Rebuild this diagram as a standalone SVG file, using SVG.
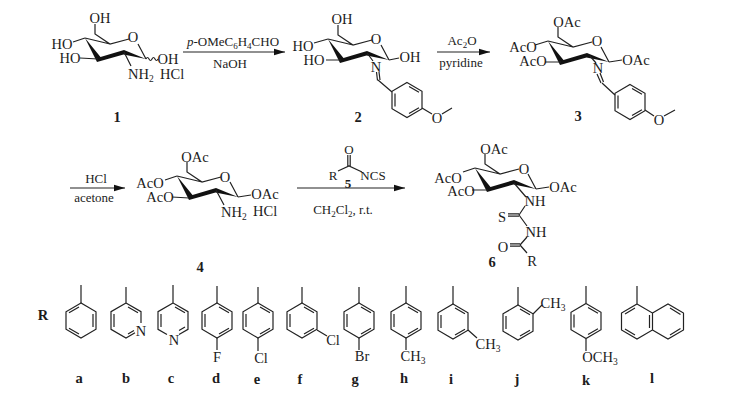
<svg xmlns="http://www.w3.org/2000/svg" xmlns:xlink="http://www.w3.org/1999/xlink" width="741" height="402" viewBox="0 0 741 402">
<style>
text{font-family:"Liberation Serif","Times New Roman",serif;font-size:14.5px;fill:#1c1c1c;text-anchor:middle}
text.r{font-size:13px}
.b{font-weight:bold}
.s{font-size:9.500px}
text.r .s{font-size:9px}
.st{text-anchor:start}
.l,path.l,line{fill:none;stroke:#222;stroke-width:1.200}
.w{fill:#111;stroke:none}
</style>
<defs>
<marker id="ah" markerUnits="userSpaceOnUse" markerWidth="12" markerHeight="8" refX="11" refY="4" orient="auto"><path d="M0 0.8 11 4 0 7.2Z" fill="#111"/></marker>
<g id="ring">
<path class="l" d="M10-14V-4L25 6 44 1M53 6 61 21M0 0 25 6"/>
<path class="w" d="M0 0 15.500 19 39 12 61 21 38.500 16.500 12 24Z"/>
</g>
<g id="bz"><path class="l" d="M0-17.500 15-8.700V8.700L0 17.500-15 8.700V-8.700ZM2-13.500 12-7.700M12 7.700 2 13.500M-12-6.500V6.500"/></g>
</defs>
<rect width="741" height="402" fill="#fff"/>

<g id="connectors">
<line x1="183" y1="52" x2="285" y2="52" marker-end="url(#ah)"/>
<line x1="437" y1="52" x2="490" y2="52" marker-end="url(#ah)"/>
<line x1="70" y1="188" x2="125" y2="188" marker-end="url(#ah)"/>
<line x1="297" y1="188" x2="405" y2="188" marker-end="url(#ah)"/>
</g>

<g id="reagents">
<text class="r" x="233" y="46"><tspan font-style="italic">p</tspan>-OMeC<tspan class="s" dy="3">6</tspan><tspan dy="-3">H</tspan><tspan class="s" dy="3">4</tspan><tspan dy="-3">CHO</tspan></text>
<text class="r" x="230" y="68">NaOH</text>
<text class="r" x="462" y="45">Ac<tspan class="s" dy="3">2</tspan><tspan dy="-3">O</tspan></text>
<text class="r" x="461" y="67">pyridine</text>
<text class="r" x="96" y="183">HCl</text>
<text class="r" x="94" y="202">acetone</text>
<text class="r" x="343" y="214">CH<tspan class="s" dy="3">2</tspan><tspan dy="-3">Cl</tspan><tspan class="s" dy="3">2</tspan><tspan dy="-3">, r.t.</tspan></text>
</g>

<g id="node-5">
<path class="l" d="M338 171 349 166 362 172M347.800 166V155M350.200 166V155"/>
<text class="r" x="349" y="154">O</text><text class="r" x="333" y="180">R</text><text class="r" x="373" y="180">NCS</text>
<text class="r b" x="348" y="188">5</text>
</g>

<g id="node-1">
<use href="#ring" xlink:href="#ring" x="85" y="38"/>
<path class="l" d="M85 38 73 42M98 59 80 58M124 52 131 66M146 59q1.500-3 3 0t3 0 3 0 3 0"/>
<text x="100" y="23">OH</text><text x="133" y="42">O</text>
<text x="62" y="49">HO</text><text x="70" y="63">HO</text><text x="168" y="64">OH</text>
<text class="st" x="128" y="79">NH<tspan class="s" dy="3">2</tspan></text><text class="st" x="160" y="79">HCl</text>
<text class="b" x="117" y="122">1</text>
</g>

<g id="node-2">
<use href="#ring" xlink:href="#ring" x="328" y="39"/>
<path class="l" d="M328 39 314 43M341 60 326 60M367 53 373 61M389 60 399 58M376.500 72 377.500 80.500M379 72 380 80M378 80 392 92M422 108 432 114M442 114 452 108"/>
<use href="#bz" xlink:href="#bz" x="407" y="100"/>
<text x="342" y="24">OH</text><text x="376" y="44">O</text>
<text x="303" y="51">HO</text><text x="314" y="65">HO</text><text x="410" y="62">OH</text>
<text x="376" y="72">N</text><text x="437" y="123">O</text>
<text class="b" x="358" y="122">2</text>
</g>

<g id="node-3">
<use href="#ring" xlink:href="#ring" x="548" y="41"/>
<path class="l" d="M548 41 535 45M561 62 545 62M609 62 622 60M590 56 596 63M597 74 601 83M600 73 603.500 82M602 83 615 95M645 110 654 116M664 116 675 110"/>
<use href="#bz" xlink:href="#bz" x="630" y="102"/>
<text x="567" y="27">OAc</text><text x="597" y="46">O</text>
<text x="523" y="52">AcO</text><text x="533" y="66">AcO</text><text x="636" y="65">OAc</text>
<text x="598" y="73">N</text><text x="659" y="125">O</text>
<text class="b" x="578" y="121">3</text>
</g>

<g id="node-4">
<use href="#ring" xlink:href="#ring" x="177" y="176"/>
<path class="l" d="M177 176 165 180M189 198 172 197M238 197 251 195M216 190 224 205"/>
<text x="195" y="162">OAc</text><text x="225" y="182">O</text>
<text x="150" y="188">AcO</text><text x="160" y="202">AcO</text><text x="265" y="199">OAc</text>
<text class="st" x="221" y="217">NH<tspan class="s" dy="3">2</tspan></text><text class="st" x="253" y="216">HCl</text>
<text class="b" x="200" y="272">4</text>
</g>

<g id="node-6">
<use href="#ring" xlink:href="#ring" x="475" y="168"/>
<path class="l" d="M475 168 463 172M488 190 472 190M536 189 549 187M514 183 526 197M525 206 519 215M519 213.800H508M519 216.200H508M519 215 527 226M527 237 520 245M520 243.800H510M520 246.200H510M520 245 527 253"/>
<text x="494" y="154">OAc</text><text x="524" y="174">O</text>
<text x="448" y="183">AcO</text><text x="461" y="196">AcO</text><text x="563" y="192">OAc</text>
<text x="535" y="206">NH</text><text x="502" y="222">S</text><text x="536" y="237">NH</text>
<text x="503" y="252">O</text><text x="532" y="266">R</text>
<text class="b" x="492" y="267">6</text>
</g>

<g id="substituents">
<text class="b" x="43" y="320">R</text>
<g id="r-a"><path class="l" d="M81 285V303"/><use href="#bz" xlink:href="#bz" transform="translate(81 320.500) scale(-1 1)"/><text class="b" x="79" y="383">a</text></g>
<g id="r-b"><path class="l" d="M126 287V303M126 303 141 311.700V323M135 332.700 126 338 111 329.300V311.700L126 303M128 307 138 312.800M114 314V327M128 334 134 330.500"/><text x="141" y="336">N</text><text class="b" x="126" y="383">b</text></g>
<g id="r-c"><path class="l" d="M173 285V303L188 311.700V329.300L179 334.500M167 334.500 158 329.300V311.700L173 303M175 307 185 312.800M161 314V327M185 327 179 330.500"/><text x="174" y="345">N</text><text class="b" x="171" y="383">c</text></g>
<g id="r-d"><path class="l" d="M217 286V303M217 338V350"/><use href="#bz" xlink:href="#bz" x="217" y="320.500"/><text x="217" y="362">F</text><text class="b" x="216" y="383">d</text></g>
<g id="r-e"><path class="l" d="M258 287V303M258 338V351"/><use href="#bz" xlink:href="#bz" x="258" y="320.500"/><text x="261" y="363">Cl</text><text class="b" x="257" y="384">e</text></g>
<g id="r-f"><path class="l" d="M302 287V303M317 330 327 336"/><use href="#bz" xlink:href="#bz" x="302" y="320.500"/><text x="333" y="345">Cl</text><text class="b" x="300" y="384">f</text></g>
<g id="r-g"><path class="l" d="M359 287V303M359 338V350"/><use href="#bz" xlink:href="#bz" x="359" y="320.500"/><text x="362" y="361">Br</text><text class="b" x="355" y="384">g</text></g>
<g id="r-h"><path class="l" d="M406 286V303M406 338V350"/><use href="#bz" xlink:href="#bz" x="406" y="320.500"/><text x="413" y="361">CH<tspan class="s" dy="3">3</tspan></text><text class="b" x="404" y="383">h</text></g>
<g id="r-i"><path class="l" d="M453 286V304M468 330 477 338"/><use href="#bz" xlink:href="#bz" x="453" y="321.500"/><text x="488" y="349">CH<tspan class="s" dy="3">3</tspan></text><text class="b" x="451" y="384">i</text></g>
<g id="r-j"><path class="l" d="M518 287V305M533 314 542 305"/><use href="#bz" xlink:href="#bz" x="518" y="322.500"/><text x="553" y="308">CH<tspan class="s" dy="3">3</tspan></text><text class="b" x="517" y="384">j</text></g>
<g id="r-k"><path class="l" d="M586 286V303M586 339V351"/><use href="#bz" xlink:href="#bz" x="586" y="321"/><text x="600" y="362">OCH<tspan class="s" dy="3">3</tspan></text><text class="b" x="586" y="385">k</text></g>
<g id="r-l"><path class="l" d="M637 286V304M637 304 652.500 313V330L637 339 621.500 330V313ZM652.500 313 668 304 683.500 313V330L668 339 652.500 330M635 308 625 314M625 329 635 335M649.500 315V328M670 308 680.500 314.500M680.500 328.500 670 335"/><text class="b" x="652" y="383">l</text></g>
</g>
</svg>
